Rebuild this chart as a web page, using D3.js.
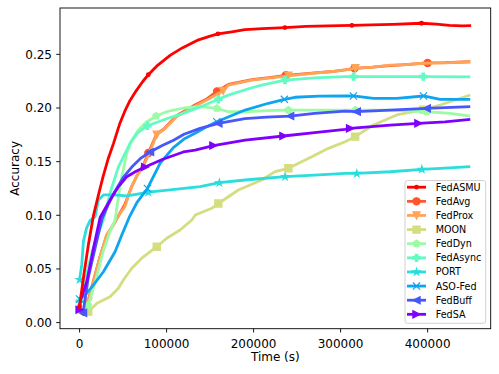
<!DOCTYPE html>
<html><head><meta charset="utf-8">
<script src="https://cdn.jsdelivr.net/npm/d3@7"></script>
<style>body{margin:0;background:#fff} text{font-family:"DejaVu Sans",sans-serif;fill:#000}</style>
</head><body><svg id="c" width="499" height="374"></svg>
<script>
// ---------- data ----------
const seriesNames = ["FedASMU","FedAvg","FedProx","MOON","FedDyn","FedAsync","PORT","ASO-Fed","FedBuff","FedSA"];
const seriesColors = ["#ff0000","#ff572c","#ffa457","#d4dd80","#9cfba4","#63fbc3","#2bdddd","#0ea4f0","#4757fb","#8000ff"];
const seriesMarkers = [".","o","v","s","p","P","*","x","<",">"];

const fedASMU = [[0,0.015],[5000,0.045],[10000,0.072],[16000,0.100],[22000,0.120],[27000,0.136],[33000,0.153],[39000,0.167],[46000,0.185],[52000,0.197],[58000,0.207],[65000,0.216],[72000,0.224],[79000,0.231],[90000,0.240],[104000,0.249],[118000,0.256],[135000,0.263],[150000,0.267],[159000,0.269],[175000,0.271],[190000,0.273],[210000,0.274],[236000,0.275],[260000,0.276],[285000,0.2765],[313000,0.277],[335000,0.2775],[360000,0.278],[393000,0.279],[410000,0.2782],[425000,0.277],[440000,0.2765],[450000,0.2767]];
const fedAvg = [[5000,0.010],[10000,0.021],[16000,0.039],[23000,0.060],[31000,0.081],[38000,0.090],[45000,0.100],[52000,0.110],[60000,0.127],[66000,0.137],[74000,0.148],[79000,0.158],[88700,0.176],[96300,0.180],[111700,0.193],[130800,0.202],[146200,0.2085],[158000,0.2155],[171000,0.222],[198000,0.2265],[220000,0.2285],[237000,0.2305],[267000,0.2325],[290000,0.234],[305000,0.2355],[316000,0.237],[337000,0.238],[357000,0.2395],[375000,0.2405],[400000,0.242],[420000,0.2422],[449000,0.2431]];
const fedProx = [[5000,0.009],[10000,0.0195],[16000,0.038],[23000,0.060],[31000,0.0816],[38000,0.090],[45000,0.100],[52000,0.108],[60000,0.127],[66000,0.137],[74000,0.147],[80000,0.158],[88700,0.175],[96300,0.1795],[111700,0.192],[130800,0.201],[146200,0.2075],[165000,0.216],[171000,0.2214],[198000,0.226],[220000,0.228],[240000,0.230],[267000,0.2323],[290000,0.234],[305000,0.2355],[317000,0.237],[337000,0.238],[357000,0.240],[375000,0.2405],[395000,0.2417],[420000,0.242],[449000,0.2431]];
const moon = [[10000,0.0102],[20000,0.018],[35000,0.024],[44600,0.032],[50300,0.0397],[60000,0.0506],[71500,0.060],[88700,0.0707],[100200,0.0786],[115500,0.0863],[129000,0.0956],[133000,0.1003],[152000,0.1065],[159500,0.111],[182500,0.1236],[209400,0.1329],[224700,0.1407],[240000,0.1438],[266900,0.1546],[286000,0.1624],[305200,0.1686],[316700,0.1733],[337700,0.1842],[364600,0.1935],[395000,0.1985],[414400,0.2028],[449000,0.2121]];
const fedDyn = [[5000,0.010],[10000,0.016],[18000,0.038],[27000,0.066],[35000,0.085],[40800,0.0956],[44600,0.117],[48500,0.136],[54300,0.1578],[60000,0.170],[67600,0.1795],[77000,0.187],[88000,0.1925],[100000,0.1965],[108000,0.198],[120000,0.200],[138500,0.2012],[157700,0.1997],[171000,0.1965],[190000,0.1965],[215000,0.1975],[240000,0.198],[270000,0.198],[305000,0.198],[317000,0.198],[357000,0.198],[399000,0.1965],[426000,0.195],[449000,0.1925]];
const fedAsync = [[0,0.020],[8000,0.045],[15000,0.068],[22000,0.085],[27400,0.0956],[35000,0.1205],[44600,0.145],[58000,0.167],[67000,0.177],[78000,0.1835],[90000,0.187],[100000,0.190],[119000,0.195],[138500,0.201],[159500,0.2081],[171000,0.212],[196000,0.2184],[209400,0.2214],[236000,0.226],[270000,0.228],[305000,0.2292],[315000,0.2292],[357000,0.2292],[395000,0.2292],[449000,0.229]];
const port = [[0,0.040],[2500,0.054],[4400,0.0754],[8000,0.088],[12000,0.095],[17800,0.0987],[21600,0.1143],[27400,0.119],[38900,0.119],[54300,0.118],[65000,0.1195],[79000,0.1215],[104000,0.1236],[138500,0.1267],[160700,0.1304],[190200,0.1329],[236200,0.136],[270000,0.1375],[305200,0.1391],[318600,0.139],[356900,0.1406],[393300,0.1428],[420000,0.144],[449000,0.1453]];
const asoFed = [[0,0.022],[6300,0.0256],[15900,0.035],[27400,0.0474],[40800,0.066],[48500,0.0816],[57000,0.098],[66000,0.112],[78000,0.125],[92500,0.1485],[107800,0.163],[120000,0.171],[132800,0.1764],[145000,0.182],[157700,0.1872],[175000,0.193],[190200,0.1981],[217000,0.2044],[235400,0.2081],[247700,0.21],[275000,0.211],[305200,0.2112],[314700,0.2112],[337700,0.209],[364600,0.209],[395200,0.2112],[414400,0.2081],[449000,0.2081]];
const fedBuff = [[4000,0.009],[6000,0.02],[10000,0.042],[18000,0.07],[26000,0.097],[33000,0.110],[39000,0.12],[50000,0.135],[60000,0.145],[70000,0.153],[81000,0.159],[95000,0.165],[108000,0.170],[120000,0.1755],[138500,0.181],[159500,0.1857],[190000,0.190],[215000,0.1915],[242000,0.1925],[270000,0.195],[305000,0.197],[318600,0.1966],[357000,0.198],[399000,0.1996],[449000,0.2012]];
const fedSA = [[0,0.012],[600,0.0195],[8300,0.038],[15900,0.069],[23600,0.098],[35000,0.1143],[45000,0.127],[54300,0.136],[65000,0.141],[75300,0.145],[95000,0.152],[119300,0.159],[132800,0.1608],[153800,0.165],[190200,0.170],[234300,0.1739],[270000,0.177],[305200,0.180],[310900,0.181],[356900,0.184],[389400,0.1857],[420000,0.187],[449000,0.1894]];
const seriesData = [fedASMU,fedAvg,fedProx,moon,fedDyn,fedAsync,port,asoFed,fedBuff,fedSA];

// x positions (seconds) of the points that carry a marker
const markerTimes = [
  [0,79000,159000,236000,313000,393000],
  [5000,79000,158000,237000,316000,400000],
  [10000,88700,165000,240000,317000],
  [10000,88700,159500,240000,316700,395000],
  [10000,88000,157700,240000,317000,399000],
  [0,78000,159500,236000,315000,395000],
  [0,79000,160700,236200,318600,393300],
  [0,78000,157700,235400,314700,395200],
  [4000,81000,159500,242000,318600,399000],
  [0,75300,153800,234300,310900,389400]
];

const xTicks = [0,100000,200000,300000,400000];
const yTicks = [0,0.05,0.10,0.15,0.20,0.25];
const xDomain = [-22500, 472500];
const yDomain = [-0.0057, 0.2932];

// ---------- layout ----------
const L=60, R=490.7, T=8, B=328.7;
const svg = d3.select("#c");
const x = d3.scaleLinear().domain(xDomain).range([L,R]);
const y = d3.scaleLinear().domain(yDomain).range([B,T]);

const ms = 7.2, mew = 1.2, lw = 2.8;
function markerPath(m){
  const h = ms/2;
  const poly = pts => "M"+pts.map(p=>p[0].toFixed(2)+","+p[1].toFixed(2)).join("L")+"Z";
  switch(m){
    case ".": return d3.symbol(d3.symbolCircle, Math.PI*(ms/4)*(ms/4))();
    case "o": return d3.symbol(d3.symbolCircle, Math.PI*h*h)();
    case "s": return poly([[-h,-h],[h,-h],[h,h],[-h,h]]);
    case "v": return poly([[0,h],[-h,-h],[h,-h]]);
    case "<": return poly([[-h,0],[h,-h],[h,h]]);
    case ">": return poly([[h,0],[-h,-h],[-h,h]]);
    case "p": { const p=[]; for(let i=0;i<5;i++){const a=-Math.PI/2+i*2*Math.PI/5; p.push([h*Math.cos(a),h*Math.sin(a)]);} return poly(p); }
    case "*": { const p=[]; for(let i=0;i<10;i++){const a=-Math.PI/2+i*Math.PI/5; const r=i%2?h*0.381966:h; p.push([r*Math.cos(a),r*Math.sin(a)]);} return poly(p); }
    case "P": { const u=ms/6; return poly([[-u,-3*u],[u,-3*u],[u,-u],[3*u,-u],[3*u,u],[u,u],[u,3*u],[-u,3*u],[-u,u],[-3*u,u],[-3*u,-u],[-u,-u]]); }
    case "x": return `M${-h},${-h}L${h},${h}M${-h},${h}L${h},${-h}`;
  }
}
function drawMarker(g, m, color, cx, cy){
  const p = g.append("path").attr("d", markerPath(m)).attr("transform",`translate(${cx},${cy})`)
    .attr("stroke",color).attr("stroke-width",mew);
  p.attr("fill", m==="x" ? "none" : color);
}

const line = d3.line().x(d=>x(d[0])).y(d=>y(d[1]));
const plotG = svg.append("g");
// draw order: others in legend order, FedASMU on top
const order = [1,2,3,4,5,6,7,8,9,0];
order.forEach(i=>{
  const g = plotG.append("g");
  g.append("path").datum(seriesData[i]).attr("d",line).attr("fill","none")
    .attr("stroke",seriesColors[i]).attr("stroke-width",lw).attr("stroke-linejoin","round");
  markerTimes[i].forEach(t=>{
    const d = seriesData[i].reduce((a,b)=>Math.abs(b[0]-t)<Math.abs(a[0]-t)?b:a);
    drawMarker(g, seriesMarkers[i], seriesColors[i], x(d[0]), y(d[1]));
  });
});

// ---------- axes ----------
const ax = svg.append("g");
ax.append("rect").attr("x",L).attr("y",T).attr("width",R-L).attr("height",B-T)
  .attr("fill","none").attr("stroke","#000").attr("stroke-width",0.9);
xTicks.forEach(t=>{
  ax.append("line").attr("x1",x(t)).attr("x2",x(t)).attr("y1",B).attr("y2",B+3.8).attr("stroke","#000").attr("stroke-width",0.9);
  ax.append("text").attr("x",x(t)).attr("y",347.5).attr("text-anchor","middle").attr("font-size",12).text(d3.format("d")(t));
});
yTicks.forEach(t=>{
  ax.append("line").attr("x1",L-3.8).attr("x2",L).attr("y1",y(t)).attr("y2",y(t)).attr("stroke","#000").attr("stroke-width",0.9);
  ax.append("text").attr("x",52).attr("y",y(t)+4.4).attr("text-anchor","end").attr("font-size",12).text(d3.format(".2f")(t));
});
ax.append("text").attr("x",(L+R)/2).attr("y",361).attr("text-anchor","middle").attr("font-size",12).text("Time (s)");
ax.append("text").attr("transform",`translate(19,${(T+B)/2}) rotate(-90)`).attr("text-anchor","middle").attr("font-size",12).text("Accuracy");

// ---------- legend ----------
const lg = svg.append("g");
lg.append("rect").attr("x",405).attr("y",180.5).attr("width",80.7).attr("height",142.8).attr("rx",2.5)
  .attr("fill","#fff").attr("fill-opacity",0.8).attr("stroke","#cccccc").attr("stroke-width",0.9);
seriesNames.forEach((n,i)=>{
  const cy = 187.2 + i*14.125;
  lg.append("line").attr("x1",407).attr("x2",426).attr("y1",cy).attr("y2",cy).attr("stroke",seriesColors[i]).attr("stroke-width",lw);
  drawMarker(lg, seriesMarkers[i], seriesColors[i], 416.5, cy);
  lg.append("text").attr("x",435.7).attr("y",cy+3.5).attr("font-size",9.6).text(n);
});
</script></body></html>
